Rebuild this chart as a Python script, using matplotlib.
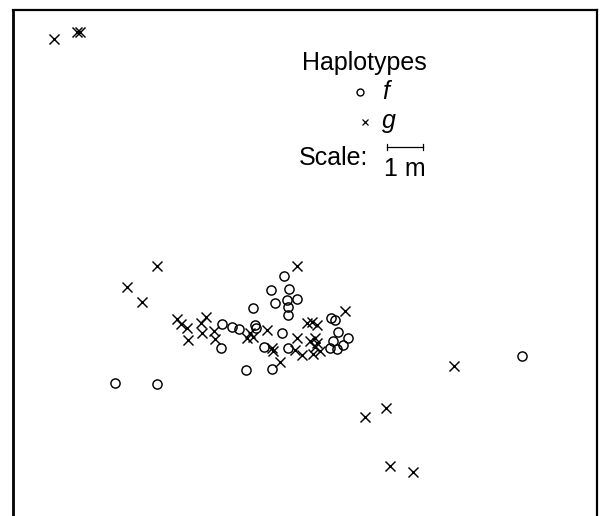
import matplotlib
matplotlib.use("Agg")
import matplotlib.pyplot as plt

# Map positions (map units; 36 units = 1 m), x to the right, y downward from top frame
hap_f_x = [102, 144, 209, 219, 226, 208, 271, 258, 276, 262, 274, 284, 275, 275, 240,
           318, 322, 242, 243, 269, 325, 335, 320, 330, 317, 324, 251, 275, 259, 233, 509]
hap_f_y = [373, 374, 314, 317, 319, 338, 266, 280, 279, 293, 290, 289, 297, 305, 298,
           308, 310, 315, 318, 323, 322, 328, 331, 335, 338, 339, 337, 338, 359, 360, 346]

hap_g_x = [41, 64, 67, 144, 114, 129, 164, 168, 174, 175, 188, 193, 189, 201, 202,
           284, 332, 237, 234, 240, 254, 284, 294, 299, 304, 297, 302, 304, 302,
           259, 260, 282, 289, 267, 300, 307, 441, 352, 373, 377, 400]
hap_g_y = [29, 22, 22, 256, 277, 292, 309, 314, 318, 330, 313, 307, 323, 321, 329,
           256, 301, 323, 328, 327, 320, 328, 313, 312, 315, 331, 328, 333, 337,
           338, 341, 340, 345, 352, 344, 341, 356, 407, 398, 456, 462]

legend_title = "Haplotypes"
legend_labels = ["f", "g"]
scale_label = "Scale:"
scale_text = "1 m"
scale_length = 36

plt.rcParams['font.family'] = ['Liberation Sans', 'DejaVu Sans']

fig = plt.figure(figsize=(6.02, 5.16), dpi=100)
ax = fig.add_axes([13/602, -0.02, 584/602, (506/516) + 0.02])
ax.set_xlim(0, 584)
ax.set_ylim(516, 0)
ax.set_xticks([])
ax.set_yticks([])
ax.spines['bottom'].set_visible(False)
ax.spines['left'].set_linewidth(2.0)
ax.spines['top'].set_linewidth(1.6)
ax.spines['right'].set_linewidth(1.6)

ax.plot(hap_f_x, hap_f_y, linestyle='none', marker='o', markersize=6.6,
        markerfacecolor='none', markeredgecolor='black', markeredgewidth=1.05)
ax.plot(hap_g_x, hap_g_y, linestyle='none', marker='x', markersize=6.6,
        color='black', markeredgewidth=1.05)

fs = 18
# Legend block
ax.text(351, 53, legend_title, ha='center', va='center', fontsize=fs)
ax.plot([347], [82], linestyle='none', marker='o', markersize=5,
        markerfacecolor='none', markeredgecolor='black', markeredgewidth=1.0)
ax.text(369, 82, legend_labels[0], ha='left', va='center', fontsize=fs, style='italic')
ax.plot([352], [112], linestyle='none', marker='x', markersize=4.5,
        color='black', markeredgewidth=0.9)
ax.text(369, 111, legend_labels[1], ha='left', va='center', fontsize=fs, style='italic')
ax.text(355, 148, scale_label, ha='right', va='center', fontsize=fs)
bx0 = 374
ax.plot([bx0, bx0 + scale_length], [137, 137], color='black', lw=0.9)
ax.plot([bx0, bx0], [134, 140], color='black', lw=0.9)
ax.plot([bx0 + scale_length, bx0 + scale_length], [134, 140], color='black', lw=0.9)
ax.text(bx0 + scale_length / 2, 159, scale_text, ha='center', va='center', fontsize=fs)

fig.savefig("out.png", dpi=100)
